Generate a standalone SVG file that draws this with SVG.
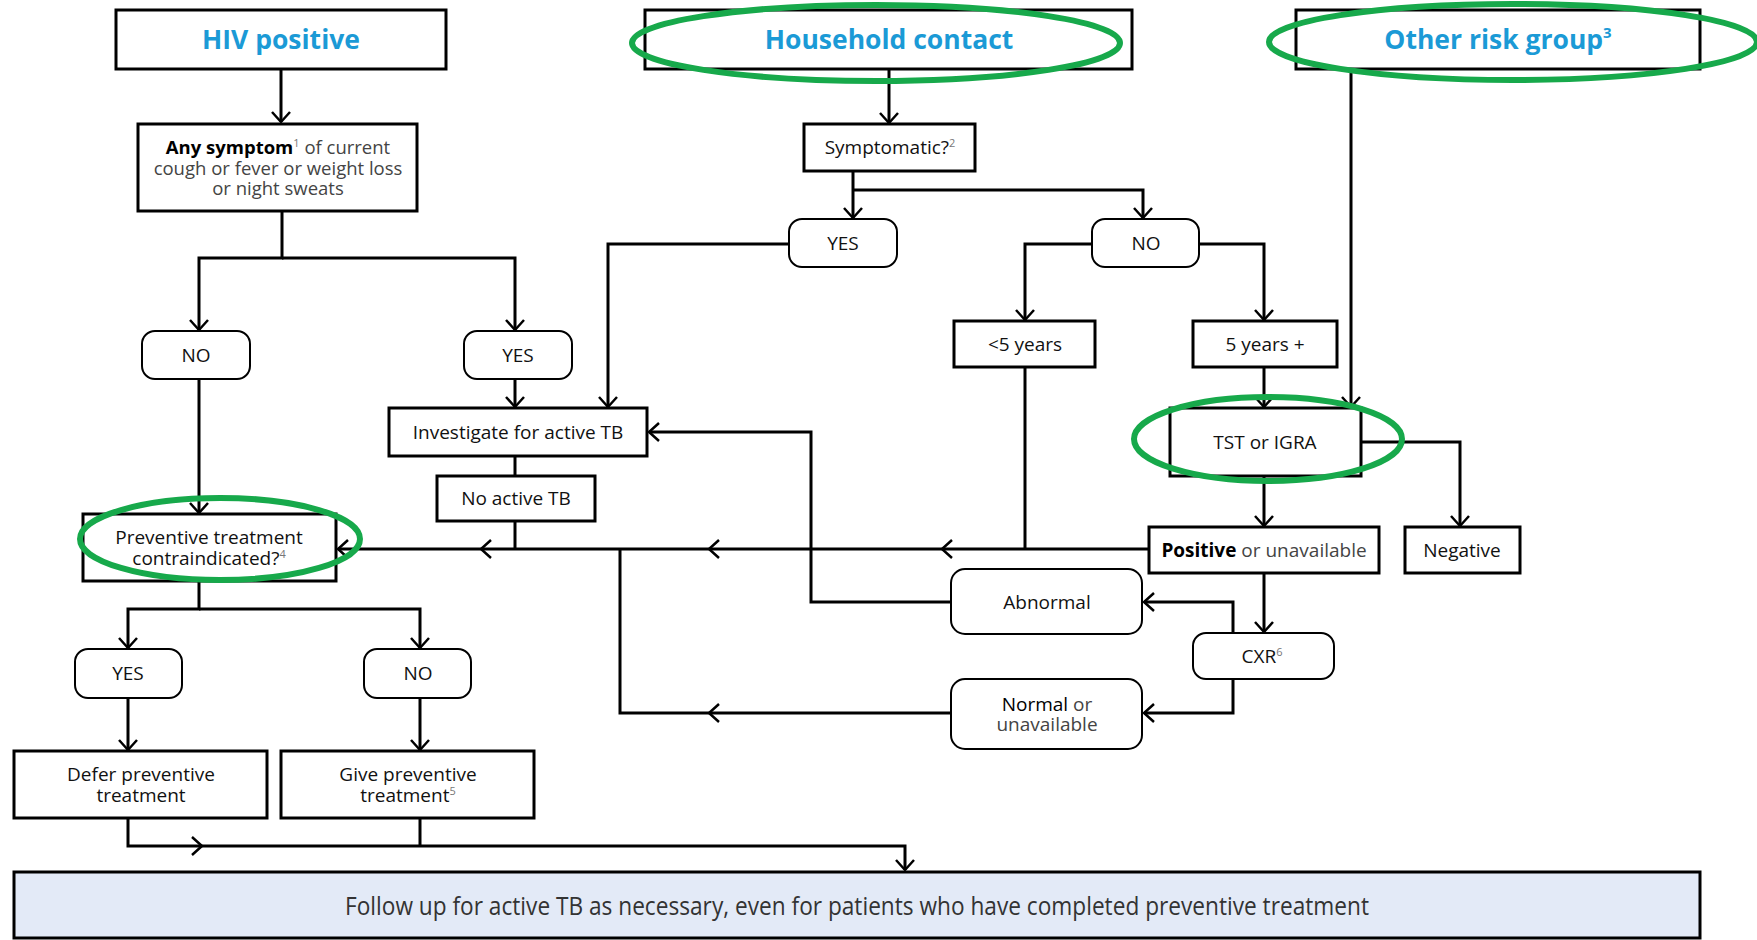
<svg xmlns="http://www.w3.org/2000/svg" width="1757" height="940" viewBox="0 0 1757 940">
<defs>
<style>
.box{fill:#fff;stroke:#000;stroke-width:3}
.rbox{fill:#fff;stroke:#000;stroke-width:2}
.t{font-family:"Open Sans","Liberation Sans",sans-serif;font-size:19px;fill:#111;text-anchor:middle}
.g{fill:#444}
.b{font-weight:bold;fill:#000}
.title{font-family:"Open Sans","Liberation Sans",sans-serif;font-size:26.5px;font-weight:bold;fill:#1b9ad6;text-anchor:middle}
.sup{font-size:11px;fill:#777}
.c{fill:none;stroke:#000;stroke-width:3}
.ell{fill:none;stroke:#17a94b;stroke-width:6}
.big{font-size:26px;fill:#333}
.s185{font-size:18.5px}
</style>
<marker id="ah" markerUnits="userSpaceOnUse" markerWidth="24" markerHeight="24" refX="0" refY="0" viewBox="-14 -12 18 24" orient="auto">
<path d="M-10,-9 L0,0 L-10,9" fill="none" stroke="#000" stroke-width="2.5"/>
</marker>
</defs>
<rect width="1757" height="940" fill="#fff"/>

<g id="connectors">
<path class="c" d="M281,69 V122" marker-end="url(#ah)"/>
<path class="c" d="M282,211 V258 H199 V330" marker-end="url(#ah)"/>
<path class="c" d="M282,258 H515 V330" marker-end="url(#ah)"/>
<path class="c" d="M199,379 V513" marker-end="url(#ah)"/>
<path class="c" d="M515,379 V407" marker-end="url(#ah)"/>
<path class="c" d="M515,456 V476"/>
<path class="c" d="M515,521 V549"/>
<path class="c" d="M1149,549 H338" marker-end="url(#ah)"/>
<path class="c" d="M889,69 V123" marker-end="url(#ah)"/>
<path class="c" d="M853,171 V218" marker-end="url(#ah)"/>
<path class="c" d="M853,190 H1143 V218" marker-end="url(#ah)"/>
<path class="c" d="M789,244 H608 V407" marker-end="url(#ah)"/>
<path class="c" d="M1092,244 H1025 V320" marker-end="url(#ah)"/>
<path class="c" d="M1199,244 H1264 V320" marker-end="url(#ah)"/>
<path class="c" d="M1025,367 V549"/>
<path class="c" d="M1264,367 V407" marker-end="url(#ah)"/>
<path class="c" d="M1351,69 V407" marker-end="url(#ah)"/>
<path class="c" d="M1361,442 H1460 V526" marker-end="url(#ah)"/>
<path class="c" d="M1264,476 V526" marker-end="url(#ah)"/>
<path class="c" d="M1264,573 V632" marker-end="url(#ah)"/>
<path class="c" d="M1233,633 V602 H1144" marker-end="url(#ah)"/>
<path class="c" d="M1233,679 V713 H1144" marker-end="url(#ah)"/>
<path class="c" d="M951,602 H811 V432 H649" marker-end="url(#ah)"/>
<path class="c" d="M951,713 H620 V549"/>
<path class="c" d="M199,581 V609 H128 V648" marker-end="url(#ah)"/>
<path class="c" d="M199,609 H420 V648" marker-end="url(#ah)"/>
<path class="c" d="M128,698 V750" marker-end="url(#ah)"/>
<path class="c" d="M420,698 V750" marker-end="url(#ah)"/>
<path class="c" d="M128,818 V846 H905 V870" marker-end="url(#ah)"/>
<path class="c" d="M420,818 V846"/>
<g fill="none" stroke="#000" stroke-width="2.5">
<path d="M491,540 L481,549 L491,558"/>
<path d="M719,540 L709,549 L719,558"/>
<path d="M952,540 L942,549 L952,558"/>
<path d="M719,704 L709,713 L719,722"/>
<path d="M192,837 L202,846 L192,855"/>
</g>
</g>

<g id="hiv"><rect class="box" x="116" y="10" width="330" height="59"/><text class="title" x="281" y="49">HIV positive</text></g>
<g id="household"><rect class="box" x="645" y="10" width="487" height="59"/><text class="title" x="889" y="49">Household contact</text></g>
<g id="other"><rect class="box" x="1296" y="10" width="404" height="59"/><text class="title" x="1498" y="49">Other risk group<tspan style="font-size:15px" dy="-11">3</tspan></text></g>

<g id="symptom"><rect class="box" x="138" y="124" width="279" height="87"/>
<text class="t s185" x="278" y="154"><tspan class="b">Any symptom</tspan><tspan class="sup" dy="-7">1</tspan><tspan class="g" dy="7"> of current</tspan></text>
<text class="t g s185" x="278" y="175">cough or fever or weight loss</text>
<text class="t g s185" x="278" y="195">or night sweats</text></g>

<g id="symptomatic"><rect class="box" x="804" y="124" width="171" height="47"/><text class="t" x="890" y="154">Symptomatic?<tspan class="sup" dy="-7">2</tspan></text></g>
<g id="hh-yes"><rect class="rbox" x="789" y="219" width="108" height="48" rx="13"/><text class="t" x="843" y="250">YES</text></g>
<g id="hh-no"><rect class="rbox" x="1092" y="219" width="107" height="48" rx="13"/><text class="t" x="1146" y="250">NO</text></g>
<g id="hiv-no"><rect class="rbox" x="142" y="331" width="108" height="48" rx="13"/><text class="t" x="196" y="362">NO</text></g>
<g id="hiv-yes"><rect class="rbox" x="464" y="331" width="108" height="48" rx="13"/><text class="t" x="518" y="362">YES</text></g>
<g id="under5"><rect class="box" x="954" y="321" width="141" height="46"/><text class="t" x="1025" y="351">&lt;5 years</text></g>
<g id="over5"><rect class="box" x="1193" y="321" width="144" height="46"/><text class="t" x="1265" y="351">5 years +</text></g>
<g id="investigate"><rect class="box" x="389" y="408" width="258" height="48"/><text class="t" x="518" y="439">Investigate for active TB</text></g>
<g id="tst"><rect class="box" x="1170" y="408" width="191" height="68"/><text class="t" x="1265" y="449">TST or IGRA</text></g>
<g id="noactive"><rect class="box" x="437" y="476" width="158" height="45"/><text class="t" x="516" y="505">No active TB</text></g>
<g id="preventive"><rect class="box" x="83" y="514" width="253" height="67"/>
<text class="t" x="209" y="544">Preventive treatment</text>
<text class="t" x="209" y="565">contraindicated?<tspan class="sup" dy="-7">4</tspan></text></g>
<g id="positive"><rect class="box" x="1149" y="527" width="230" height="46"/><text class="t" x="1264" y="557"><tspan class="b">Positive</tspan><tspan class="g"> or unavailable</tspan></text></g>
<g id="negative"><rect class="box" x="1405" y="527" width="115" height="46"/><text class="t" x="1462" y="557">Negative</text></g>
<g id="abnormal"><rect class="rbox" x="951" y="569" width="191" height="65" rx="14"/><text class="t" x="1047" y="609">Abnormal</text></g>
<g id="cxr"><rect class="rbox" x="1193" y="633" width="141" height="46" rx="13"/><text class="t" x="1262" y="663">CXR<tspan class="sup" dy="-7">6</tspan></text></g>
<g id="normal"><rect class="rbox" x="951" y="679" width="191" height="70" rx="14"/>
<text class="t" x="1047" y="711"><tspan fill="#000">Normal</tspan><tspan class="g"> or</tspan></text>
<text class="t g" x="1047" y="731">unavailable</text></g>
<g id="prev-yes"><rect class="rbox" x="75" y="649" width="107" height="49" rx="13"/><text class="t" x="128" y="680">YES</text></g>
<g id="prev-no"><rect class="rbox" x="364" y="649" width="107" height="49" rx="13"/><text class="t" x="418" y="680">NO</text></g>
<g id="defer"><rect class="box" x="14" y="751" width="253" height="67"/>
<text class="t" x="141" y="781">Defer preventive</text>
<text class="t" x="141" y="802">treatment</text></g>
<g id="give"><rect class="box" x="281" y="751" width="253" height="67"/>
<text class="t" x="408" y="781">Give preventive</text>
<text class="t" x="408" y="802">treatment<tspan class="sup" dy="-7">5</tspan></text></g>
<g id="followup"><rect x="14" y="872" width="1686" height="66" fill="#e3eaf7" stroke="#000" stroke-width="3"/>
<text class="t big" x="857" y="915" textLength="1024" lengthAdjust="spacingAndGlyphs">Follow up for active TB as necessary, even for patients who have completed preventive treatment</text></g>

<g id="highlights">
<ellipse class="ell" cx="876" cy="43" rx="244" ry="38"/>
<ellipse class="ell" cx="1513" cy="42" rx="244" ry="38"/>
<ellipse class="ell" cx="1268" cy="439" rx="134" ry="42"/>
<ellipse class="ell" cx="220" cy="539" rx="140" ry="41"/>
</g>
</svg>
